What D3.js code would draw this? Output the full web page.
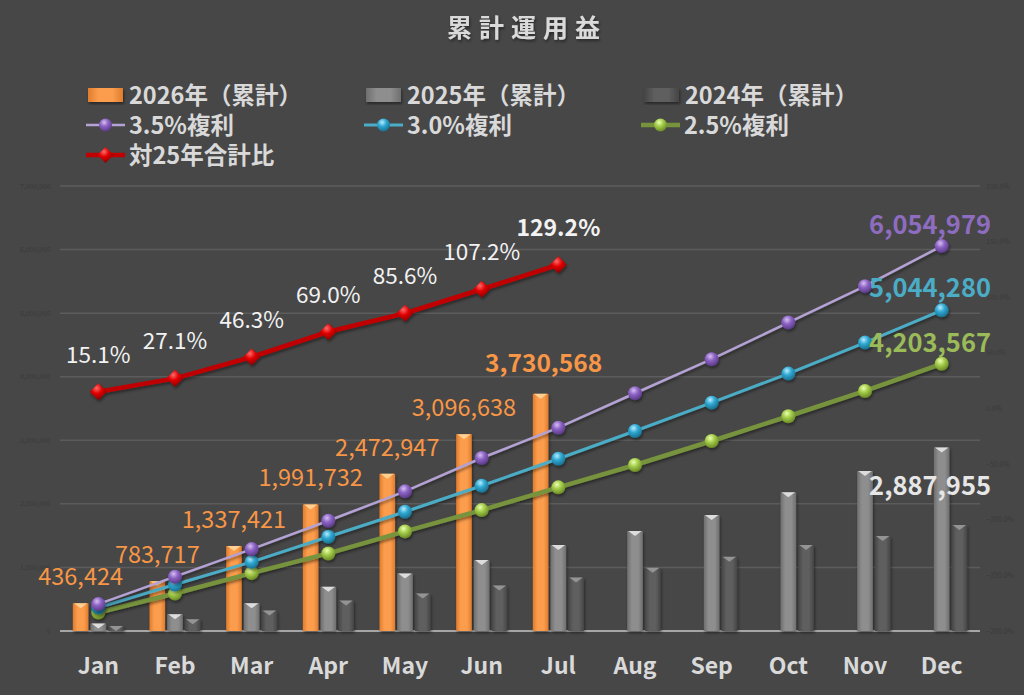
<!DOCTYPE html>
<html>
<head>
<meta charset="utf-8">
<script src="https://cdn.jsdelivr.net/npm/d3@7"></script>
<style>
  html, body { margin: 0; padding: 0; background: #474747; }
  svg { display: block; font-family: "Noto Sans CJK JP", "Noto Sans", sans-serif; }
</style>
</head>
<body>
<svg id="chart" width="1024" height="695"></svg>
<script>
// chart values
const months = ["Jan", "Feb", "Mar", "Apr", "May", "Jun", "Jul", "Aug", "Sep", "Oct", "Nov", "Dec"];
const cum2026 = [436424, 783717, 1337421, 1991732, 2472947, 3096638, 3730568];
const cum2025 = [118000, 265000, 438000, 695000, 905000, 1115000, 1351000, 1572000, 1824000, 2181000, 2517000, 2887955];
const cum2024 = [80000, 186000, 323000, 480000, 590000, 716000, 842000, 994000, 1167000, 1351000, 1493000, 1666000];
const comp35 = [423000, 855000, 1288000, 1734000, 2197000, 2721000, 3198000, 3740000, 4275000, 4852000, 5425000, 6054979];
const comp30 = [370000, 732000, 1088000, 1482000, 1876000, 2285000, 2710000, 3146000, 3592000, 4049000, 4537000, 5044280];
const comp25 = [291000, 590000, 910000, 1220000, 1567000, 1902000, 2260000, 2611000, 2989000, 3378000, 3776000, 4203567];
const ratio25 = [0.151, 0.271, 0.463, 0.690, 0.856, 1.072, 1.292];
const leftTicks = [0, 1000000, 2000000, 3000000, 4000000, 5000000, 6000000, 7000000];
const rightTicks = [-2, -1.5, -1, -0.5, 0, 0.5, 1, 1.5, 2];

const svg = d3.select("#chart");
const defs = svg.append("defs");

const x = d3.scaleBand().domain(months).range([60, 980]);
const xs = d3.scaleBand().domain(["2026", "2025", "2024"]).range([-25.5, 25.5]).paddingInner(0.12);
const y = d3.scaleLinear().domain([0, 7000000]).range([631, 186]);
const yR = d3.scaleLinear().domain([-2, 2]).range([631, 186]);
const cx = (m) => x(m) + x.bandwidth() / 2;

const fmt = d3.format(",");
const pct = d3.format(".1%");

// gradients
function barGrad(id, edge, mid) {
  const g = defs.append("linearGradient").attr("id", id).attr("x1", 0).attr("x2", 1).attr("y1", 0).attr("y2", 0);
  g.append("stop").attr("offset", "0%").attr("stop-color", edge);
  g.append("stop").attr("offset", "30%").attr("stop-color", mid);
  g.append("stop").attr("offset", "70%").attr("stop-color", mid);
  g.append("stop").attr("offset", "100%").attr("stop-color", edge);
}
barGrad("gOrange", "#e07c2c", "#fb9d4e");
barGrad("gLight", "#6f6f6f", "#8e8e8e");
barGrad("gDark", "#464646", "#5e5e5e");

function ballGrad(id, hi, mid, lo) {
  const g = defs.append("radialGradient").attr("id", id).attr("cx", "40%").attr("cy", "30%").attr("r", "70%");
  g.append("stop").attr("offset", "0%").attr("stop-color", hi);
  g.append("stop").attr("offset", "45%").attr("stop-color", mid);
  g.append("stop").attr("offset", "100%").attr("stop-color", lo);
}
ballGrad("bPurple", "#d4bff0", "#8c62c4", "#5a3a86");
ballGrad("bCyan", "#b7ecff", "#2fa8d2", "#1a6f8e");
ballGrad("bGreen", "#eaffb0", "#a4cc4a", "#6a8a25");
ballGrad("bRed", "#ff6a6a", "#e00000", "#8a0000");

const shadow = defs.append("filter").attr("id", "sh").attr("x", "-20%").attr("y", "-20%").attr("width", "140%").attr("height", "140%");
shadow.append("feDropShadow").attr("dx", 1).attr("dy", 2).attr("stdDeviation", 1.5).attr("flood-color", "#000").attr("flood-opacity", 0.45);

// title
svg.append("text").attr("x", 527).attr("y", 37).attr("text-anchor", "middle")
  .attr("font-size", 25).attr("font-weight", "bold").attr("letter-spacing", 7)
  .attr("fill", "#dadada").attr("filter", "url(#sh)").text("累計運用益");

// gridlines
svg.append("g").selectAll("line").data(leftTicks).join("line")
  .attr("x1", 60).attr("x2", 980)
  .attr("y1", (d) => y(d)).attr("y2", (d) => y(d))
  .attr("stroke", (d) => (d === 0 ? "#a6a6a6" : "#5c5c5c"))
  .attr("stroke-width", (d) => (d === 0 ? 2 : 1.5));

// left axis labels (very faint)
svg.append("g").selectAll("text").data(leftTicks).join("text")
  .attr("x", 51).attr("y", (d) => y(d) + 2.5).attr("text-anchor", "end")
  .attr("font-size", 7).attr("fill", "#3a3a3a").text((d) => fmt(d));

// right axis labels
svg.append("g").selectAll("text").data(rightTicks).join("text")
  .attr("x", 986).attr("y", (d) => yR(d) + 2.5).attr("text-anchor", "start")
  .attr("font-size", 7).attr("fill", "#3a3a3a").text((d) => pct(d));

// x axis labels
svg.append("g").selectAll("text").data(months).join("text")
  .attr("x", (d) => cx(d)).attr("y", 674).attr("text-anchor", "middle")
  .attr("font-size", 23).attr("font-weight", "bold").attr("fill", "#d9d9d9").text((d) => d);

// bars
const barSeries = [
  { key: "2026", values: cum2026, fill: "url(#gOrange)", cap: "#ffd699" },
  { key: "2025", values: cum2025, fill: "url(#gLight)", cap: "#e6e6e6" },
  { key: "2024", values: cum2024, fill: "url(#gDark)", cap: "#9a9a9a" }
];
const barG = svg.append("g").attr("filter", "url(#sh)");
barSeries.forEach((s) => {
  const data = s.values.map((v, i) => ({ m: months[i], v }));
  const g = barG.append("g");
  g.selectAll("rect").data(data).join("rect")
    .attr("x", (d) => x(d.m) + x.bandwidth() / 2 + xs(s.key))
    .attr("y", (d) => y(d.v))
    .attr("width", xs.bandwidth())
    .attr("height", (d) => y(0) - y(d.v))
    .attr("fill", s.fill);
  g.selectAll("path").data(data).join("path")
    .attr("d", (d) => {
      const x0 = x(d.m) + x.bandwidth() / 2 + xs(s.key);
      const w = xs.bandwidth();
      const t = y(d.v);
      return `M${x0 + 1},${t}L${x0 + w - 1},${t}L${x0 + w / 2},${t + 5}Z`;
    })
    .attr("fill", s.cap).attr("opacity", 0.9);
});

// compound lines
const lineSeries = [
  { values: comp25, stroke: "#77933c", width: 4.5, ball: "url(#bGreen)" },
  { values: comp30, stroke: "#4bacc6", width: 3, ball: "url(#bCyan)" },
  { values: comp35, stroke: "#b3a2d3", width: 2.5, ball: "url(#bPurple)" }
];
const line = d3.line().x((d) => cx(d.m)).y((d) => y(d.v));
lineSeries.forEach((s) => {
  const data = s.values.map((v, i) => ({ m: months[i], v }));
  const g = svg.append("g").attr("filter", "url(#sh)");
  g.append("path").datum(data).attr("d", line)
    .attr("fill", "none").attr("stroke", s.stroke).attr("stroke-width", s.width);
  g.selectAll("circle").data(data).join("circle")
    .attr("cx", (d) => cx(d.m)).attr("cy", (d) => y(d.v)).attr("r", 7)
    .attr("fill", s.ball);
});

// ratio line (right axis)
const ratioData = ratio25.map((v, i) => ({ m: months[i], v }));
const rLine = d3.line().x((d) => cx(d.m)).y((d) => yR(d.v));
const rg = svg.append("g").attr("filter", "url(#sh)");
rg.append("path").datum(ratioData).attr("d", rLine)
  .attr("fill", "none").attr("stroke", "#c00000").attr("stroke-width", 4.5);
rg.selectAll("path.dia").data(ratioData).join("path").attr("class", "dia")
  .attr("transform", (d) => `translate(${cx(d.m)},${yR(d.v)})`)
  .attr("d", "M0,-8.5L8.5,0L0,8.5L-8.5,0Z")
  .attr("fill", "url(#bRed)");

// labels: 2026 bars
svg.append("g").selectAll("text").data(cum2026.map((v, i) => ({ m: months[i], v, last: i === cum2026.length - 1 }))).join("text")
  .attr("x", (d) => x(d.m) + x.bandwidth() / 2 + xs("2026") + xs.bandwidth() / 2 + (d.last ? 3 : 0))
  .attr("y", (d) => y(d.v) - (d.last ? 22 : 18))
  .attr("text-anchor", "middle")
  .attr("font-size", (d) => (d.last ? 24.5 : 23.5))
  .attr("font-weight", (d) => (d.last ? "bold" : "normal"))
  .attr("fill", "#f79646").text((d) => fmt(d.v));

// labels: ratio
svg.append("g").selectAll("text").data(ratioData.map((d, i) => ({ ...d, last: i === ratioData.length - 1 }))).join("text")
  .attr("x", (d) => cx(d.m))
  .attr("y", (d) => yR(d.v) - 29)
  .attr("text-anchor", "middle")
  .attr("font-size", (d) => (d.last ? 23 : 22.5))
  .attr("font-weight", (d) => (d.last ? "bold" : "normal"))
  .attr("fill", "#f2f2f2").text((d) => pct(d.v));

// end labels
const endLabels = [
  { v: comp35[11], yv: y(comp35[11]) - 12, fill: "#8e6cc0" },
  { v: comp30[11], yv: y(comp30[11]) - 13, fill: "#4bacc6" },
  { v: comp25[11], yv: y(comp25[11]) - 12, fill: "#9bbb59" },
  { v: cum2025[11], yv: y(cum2025[11]) + 48, fill: "#e6e6e6" }
];
svg.append("g").selectAll("text").data(endLabels).join("text")
  .attr("x", 991).attr("y", (d) => d.yv).attr("text-anchor", "end")
  .attr("font-size", 25.5).attr("font-weight", "bold")
  .attr("fill", (d) => d.fill).text((d) => fmt(d.v));

// legend
const legendItems = [
  { label: "2026年（累計）", type: "bar", fill: "url(#gOrange)", x: 88, y: 95 },
  { label: "2025年（累計）", type: "bar", fill: "url(#gLight)", x: 366, y: 95 },
  { label: "2024年（累計）", type: "bar", fill: "url(#gDark)", x: 644, y: 95 },
  { label: "3.5%複利", type: "line", stroke: "#b3a2d3", width: 2.5, ball: "url(#bPurple)", x: 86, y: 125 },
  { label: "3.0%複利", type: "line", stroke: "#4bacc6", width: 3, ball: "url(#bCyan)", x: 364, y: 125 },
  { label: "2.5%複利", type: "line", stroke: "#77933c", width: 4.5, ball: "url(#bGreen)", x: 641, y: 125 },
  { label: "対25年合計比", type: "dia", stroke: "#c00000", width: 4.5, ball: "url(#bRed)", x: 86, y: 155 }
];
const lg = svg.append("g");
legendItems.forEach((it) => {
  const g = lg.append("g").attr("transform", `translate(${it.x},${it.y})`);
  if (it.type === "bar") {
    g.append("rect").attr("x", 0).attr("y", -7).attr("width", 35).attr("height", 14)
      .attr("fill", it.fill).attr("filter", "url(#sh)");
  } else {
    g.append("line").attr("x1", 0).attr("x2", 39).attr("y1", 0).attr("y2", 0)
      .attr("stroke", it.stroke).attr("stroke-width", it.width);
    if (it.type === "dia") {
      g.append("path").attr("transform", "translate(19.5,0)").attr("d", "M0,-8L8,0L0,8L-8,0Z").attr("fill", it.ball);
    } else {
      g.append("circle").attr("cx", 19.5).attr("cy", 0).attr("r", 6.5).attr("fill", it.ball);
    }
  }
  g.append("text").attr("x", it.type === "bar" ? 41 : 43).attr("y", 8.5)
    .attr("font-size", 23.5).attr("font-weight", "bold").attr("fill", "#d9d9d9").text(it.label);
});
</script>
</body>
</html>
